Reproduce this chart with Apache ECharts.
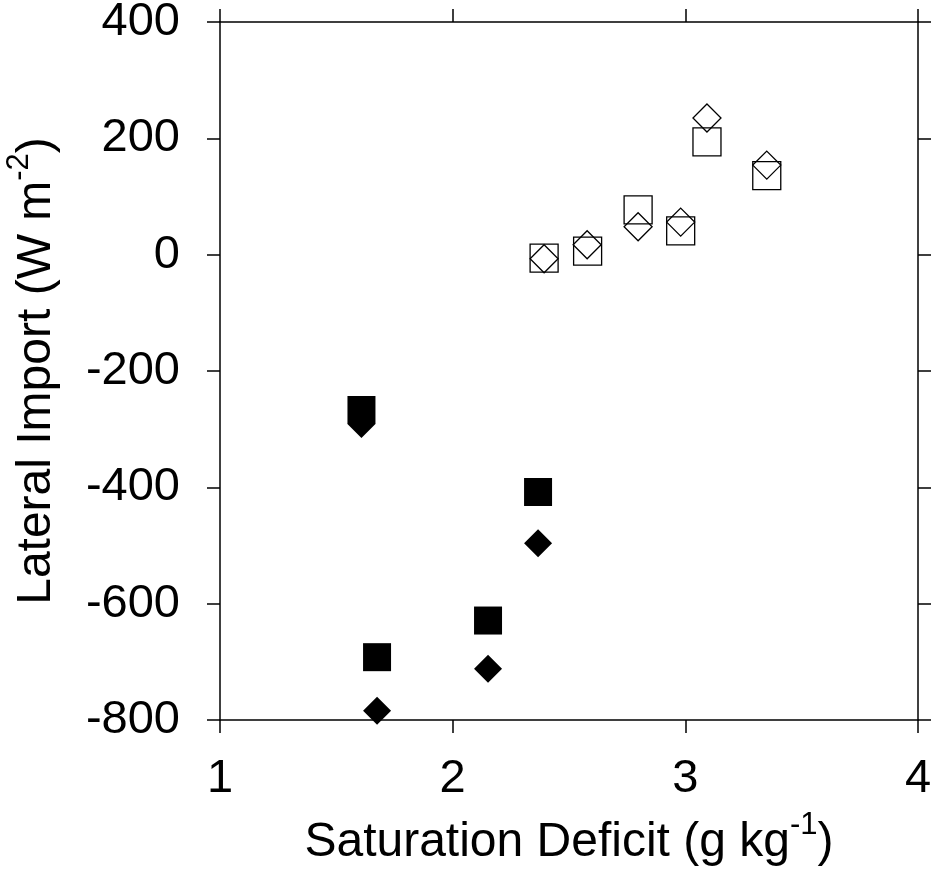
<!DOCTYPE html>
<html>
<head>
<meta charset="utf-8">
<script src="https://cdn.jsdelivr.net/npm/echarts@6/dist/echarts.min.js"></script>
<style>
  html, body { margin: 0; padding: 0; background: #fff; }
  #chart { width: 933px; height: 876px; }
</style>
</head>
<body>
<div id="chart"></div>
<script>
// saturation deficit (g/kg) vs lateral import (W/m2)
const openSquares = [[2.393, -6], [2.580, 6], [2.797, 77], [2.980, 41], [3.093, 194], [3.350, 136]];
const openDiamonds = [[2.393, -7], [2.578, 17], [2.797, 48], [2.980, 56], [3.093, 235], [3.350, 154]];
const filledSquares = [[1.608, -267], [1.675, -692], [2.152, -629], [2.367, -408]];
const filledDiamonds = [[1.608, -291], [1.675, -784], [2.152, -712], [2.367, -496]];

const xTicks = [1, 2, 3, 4];
const yTicks = [-800, -600, -400, -200, 0, 200, 400];

const font = 'Liberation Sans, Arial, Helvetica, sans-serif';
const axisLine = { show: true, onZero: false, lineStyle: { color: '#000', width: 1.5 } };
const tick = { show: true, inside: false, length: 13, lineStyle: { color: '#000', width: 1.5 } };
const supStyle = { fontFamily: font, fontSize: 31, color: '#000', verticalAlign: 'top', padding: [0, 0, 34, 0] };

const chart = echarts.init(document.getElementById('chart'));

const markerSeries = (name, data, symbol, filled) => ({
  name,
  type: 'scatter',
  data,
  symbol,
  symbolSize: 28,
  itemStyle: filled
    ? { color: '#000', opacity: 1, borderWidth: 0 }
    : { color: 'transparent', opacity: 1, borderColor: '#000', borderWidth: 1.3 },
  emphasis: { disabled: true }
});

chart.setOption({
  animation: false,
  backgroundColor: '#fff',
  grid: { left: 220, right: 15, top: 22, bottom: 156, containLabel: false, outerBoundsMode: 'none' },
  xAxis: [
    {
      type: 'value',
      min: xTicks[0],
      max: xTicks[xTicks.length - 1],
      interval: 1,
      position: 'bottom',
      name: 'Saturation Deficit (g kg{sup|-1})',
      nameLocation: 'middle',
      nameGap: 90,
      nameTextStyle: { fontFamily: font, fontSize: 48, color: '#000', rich: { sup: supStyle } },
      axisLine, axisTick: tick,
      axisLabel: { fontFamily: font, fontSize: 47, color: '#000', margin: 36 },
      splitLine: { show: false }
    },
    {
      type: 'value',
      min: xTicks[0],
      max: xTicks[xTicks.length - 1],
      interval: 1,
      position: 'top',
      axisLine, axisTick: tick,
      axisLabel: { show: false },
      splitLine: { show: false }
    }
  ],
  yAxis: [
    {
      type: 'value',
      min: yTicks[0],
      max: yTicks[yTicks.length - 1],
      interval: 200,
      position: 'left',
      name: 'Lateral Import (W m{sup|-2})',
      nameLocation: 'middle',
      nameGap: 151,
      nameRotate: 90,
      nameTextStyle: { fontFamily: font, fontSize: 48, color: '#000', rich: { sup: supStyle } },
      axisLine, axisTick: tick,
      axisLabel: { fontFamily: font, fontSize: 47, color: '#000', margin: 40 },
      splitLine: { show: false }
    },
    {
      type: 'value',
      min: yTicks[0],
      max: yTicks[yTicks.length - 1],
      interval: 200,
      position: 'right',
      axisLine, axisTick: tick,
      axisLabel: { show: false },
      splitLine: { show: false }
    }
  ],
  series: [
    markerSeries('open squares', openSquares, 'rect', false),
    markerSeries('open diamonds', openDiamonds, 'diamond', false),
    markerSeries('filled diamonds', filledDiamonds, 'diamond', true),
    markerSeries('filled squares', filledSquares, 'rect', true)
  ]
});

window.addEventListener('resize', () => chart.resize());
</script>
</body>
</html>
